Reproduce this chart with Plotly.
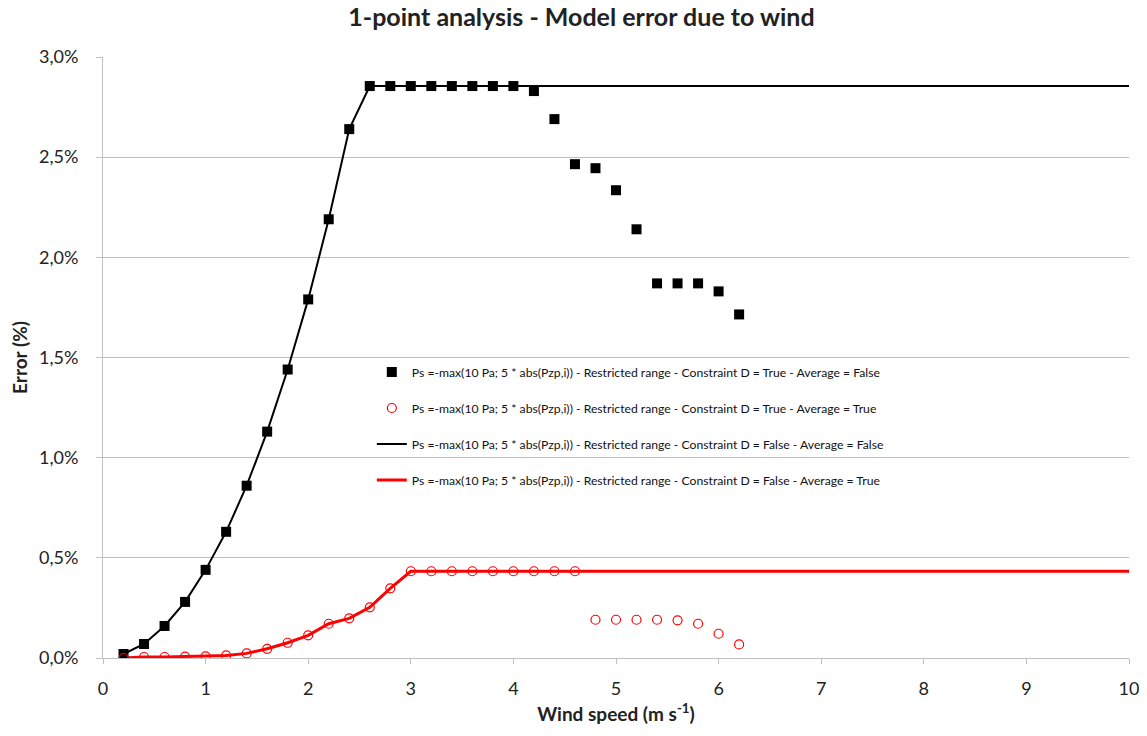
import plotly.graph_objects as go

# Wind speed (m/s) for point series
wind = [0.2, 0.4, 0.6, 0.8, 1.0, 1.2, 1.4, 1.6, 1.8, 2.0, 2.2, 2.4, 2.6, 2.8, 3.0, 3.2,
        3.4, 3.6, 3.8, 4.0, 4.2, 4.4, 4.6, 4.8, 5.0, 5.2, 5.4, 5.6, 5.8, 6.0, 6.2]

# Constraint D = True - Average = False (black squares), error in %
err_sq = [0.02, 0.07, 0.16, 0.28, 0.44, 0.63, 0.86, 1.13, 1.44, 1.79, 2.19, 2.64, 2.855,
          2.855, 2.855, 2.855, 2.855, 2.855, 2.855, 2.855, 2.83, 2.69, 2.465, 2.445, 2.335,
          2.14, 1.87, 1.87, 1.87, 1.83, 1.715]

# Constraint D = True - Average = True (red circles), error in %
err_ci = [0.0, 0.005, 0.005, 0.007, 0.008, 0.013, 0.023, 0.046, 0.076, 0.113, 0.171,
          0.198, 0.253, 0.348, 0.433, 0.433, 0.433, 0.433, 0.433, 0.433, 0.433, 0.433,
          0.433, 0.191, 0.191, 0.191, 0.191, 0.188, 0.171, 0.121, 0.068]

# Constraint D = False - Average = False (black line)
line_bk_x = [0.2, 0.4, 0.6, 0.8, 1.0, 1.2, 1.4, 1.6, 1.8, 2.0, 2.2, 2.4, 2.6, 10.0]
line_bk_y = [0.02, 0.07, 0.16, 0.28, 0.44, 0.63, 0.86, 1.13, 1.44, 1.79, 2.19, 2.64, 2.855, 2.855]

# Constraint D = False - Average = True (red line)
line_rd_x = [0.2, 0.4, 0.6, 0.8, 1.0, 1.2, 1.4, 1.6, 1.8, 2.0, 2.2, 2.4, 2.6, 2.8, 3.0, 10.0]
line_rd_y = [0.0, 0.005, 0.005, 0.007, 0.008, 0.013, 0.023, 0.046, 0.076, 0.113, 0.171,
             0.198, 0.253, 0.348, 0.433, 0.433]

names = [
    "Ps =-max(10 Pa; 5 * abs(Pzp,i)) - Restricted range - Constraint D = True - Average = False",
    "Ps =-max(10 Pa; 5 * abs(Pzp,i)) - Restricted range - Constraint D = True - Average = True",
    "Ps =-max(10 Pa; 5 * abs(Pzp,i)) - Restricted range - Constraint D = False - Average = False",
    "Ps =-max(10 Pa; 5 * abs(Pzp,i)) - Restricted range - Constraint D = False - Average = True",
]

y_ticks = [0.0, 0.5, 1.0, 1.5, 2.0, 2.5, 3.0]
y_ticktext = ["0,0%", "0,5%", "1,0%", "1,5%", "2,0%", "2,5%", "3,0%"]
x_ticks = [0, 1, 2, 3, 4, 5, 6, 7, 8, 9, 10]

fig = go.Figure()

fig.add_trace(go.Scatter(x=line_bk_x, y=line_bk_y, mode="lines", name=names[2],
                         line=dict(color="black", width=2), legendgroup="c", legendrank=3))
fig.add_trace(go.Scatter(x=line_rd_x, y=line_rd_y, mode="lines", name=names[3],
                         line=dict(color="#ff0000", width=3), legendgroup="d", legendrank=4))
fig.add_trace(go.Scatter(x=wind, y=err_sq, mode="markers", name=names[0],
                         marker=dict(symbol="square", size=10, color="black"),
                         legendgroup="a", legendrank=1))
fig.add_trace(go.Scatter(x=wind, y=err_ci, mode="markers", name=names[1],
                         marker=dict(symbol="circle-open", size=9, color="#ff0000",
                                     line=dict(width=1.2, color="#ff0000")),
                         legendgroup="b", legendrank=2))

font_fam = "Lato, 'Open Sans', sans-serif"

fig.update_layout(
    width=1147, height=736,
    margin=dict(l=95, r=26, t=49, b=86, autoexpand=False),
    paper_bgcolor="white", plot_bgcolor="white",
    title=dict(text="<b>1-point analysis - Model error due to wind</b>", x=0.5, xanchor="center",
               y=0.999, yanchor="top", pad=dict(t=0),
               font=dict(family=font_fam, size=25, color="#222222")),
    font=dict(family=font_fam, color="#222222"),
    legend=dict(x=0.262, y=0.5, xanchor="left", yanchor="top", bgcolor="rgba(0,0,0,0)",
                font=dict(size=12.2, color="#111111"), tracegroupgap=17,
                traceorder="grouped", itemwidth=30),
    xaxis=dict(range=[0, 10], tickvals=x_ticks, showgrid=False, showline=True,
               linecolor="#bfbfbf", linewidth=1, ticks="outside", ticklen=5,
               tickcolor="#bfbfbf", tickfont=dict(size=18), zeroline=False,
               ticklabelstandoff=9, automargin=False,
               title=dict(text="<b>Wind speed (m s<sup>-1</sup>)</b>", font=dict(size=19),
                          standoff=10)),
    yaxis=dict(range=[0, 3], tickvals=y_ticks, ticktext=y_ticktext, showgrid=True,
               gridcolor="#bfbfbf", gridwidth=1, showline=True, linecolor="#bfbfbf",
               ticks="outside", ticklen=6, tickcolor="#bfbfbf", tickfont=dict(size=18),
               zeroline=False, ticklabelstandoff=14, automargin=False,
               title=dict(text="<b>Error (%)</b>", font=dict(size=19), standoff=14)),
)

fig.write_html("out.html")
